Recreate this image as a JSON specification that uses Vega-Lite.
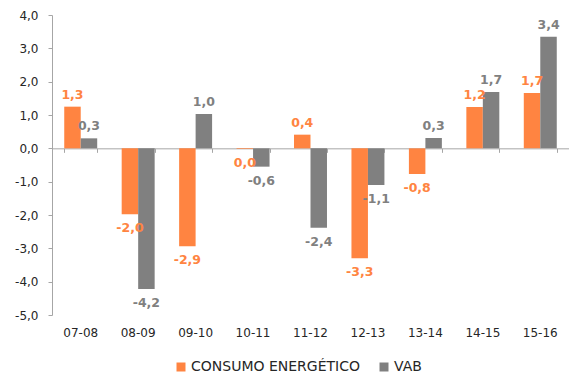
{
  "$schema": "https://vega.github.io/schema/vega-lite/v6.json",
  "width": 517,
  "height": 300,
  "autosize": "none",
  "padding": {"left": 52, "top": 15, "right": 0, "bottom": 59},
  "background": "white",
  "config": {
    "view": {"stroke": null},
    "font": "DejaVu Sans",
    "axis": {"labelFont": "DejaVu Sans", "labelFontSize": 12, "labelColor": "#262626", "domainColor": "#A6A6A6", "tickColor": "#A6A6A6", "grid": false, "title": null}
  },
  "data": {
    "values": [
      {"period": "07-08", "series": "CONSUMO ENERGÉTICO", "value": 1.25, "label": "1,3"},
      {"period": "07-08", "series": "VAB", "value": 0.30, "label": "0,3"},
      {"period": "08-09", "series": "CONSUMO ENERGÉTICO", "value": -1.98, "label": "-2,0"},
      {"period": "08-09", "series": "VAB", "value": -4.22, "label": "-4,2"},
      {"period": "09-10", "series": "CONSUMO ENERGÉTICO", "value": -2.94, "label": "-2,9"},
      {"period": "09-10", "series": "VAB", "value": 1.03, "label": "1,0"},
      {"period": "10-11", "series": "CONSUMO ENERGÉTICO", "value": -0.02, "label": "0,0"},
      {"period": "10-11", "series": "VAB", "value": -0.55, "label": "-0,6"},
      {"period": "11-12", "series": "CONSUMO ENERGÉTICO", "value": 0.41, "label": "0,4"},
      {"period": "11-12", "series": "VAB", "value": -2.38, "label": "-2,4"},
      {"period": "12-13", "series": "CONSUMO ENERGÉTICO", "value": -3.30, "label": "-3,3"},
      {"period": "12-13", "series": "VAB", "value": -1.10, "label": "-1,1"},
      {"period": "13-14", "series": "CONSUMO ENERGÉTICO", "value": -0.77, "label": "-0,8"},
      {"period": "13-14", "series": "VAB", "value": 0.31, "label": "0,3"},
      {"period": "14-15", "series": "CONSUMO ENERGÉTICO", "value": 1.24, "label": "1,2"},
      {"period": "14-15", "series": "VAB", "value": 1.69, "label": "1,7"},
      {"period": "15-16", "series": "CONSUMO ENERGÉTICO", "value": 1.66, "label": "1,7"},
      {"period": "15-16", "series": "VAB", "value": 3.35, "label": "3,4"}
    ]
  },
  "encoding": {
    "x": {"field": "period", "type": "nominal", "sort": null, "scale": {"paddingInner": 0.426, "paddingOuter": 0.213}},
    "xOffset": {"field": "series", "type": "nominal", "scale": {"paddingInner": 0, "paddingOuter": 0}},
    "y": {"field": "value", "type": "quantitative", "scale": {"domain": [-5, 4], "nice": false, "zero": false},
      "axis": {"values": [-5, -4, -3, -2, -1, 0, 1, 2, 3, 4], "tickSize": 4, "labelPadding": 10,
        "labelExpr": "replace(replace(format(datum.value, '.1f'), '.', ','), '\u2212', '-')"}},
    "color": {"field": "series", "type": "nominal",
      "scale": {"domain": ["CONSUMO ENERGÉTICO", "VAB"], "range": ["#FF8441", "#808080"]}}
  },
  "layer": [
    {
      "mark": {"type": "bar"},
      "encoding": {
        "x": {"field": "period", "type": "nominal", "sort": null,
          "axis": {"orient": "bottom", "domain": false, "ticks": false, "tickSize": 0, "labelPadding": 12, "labelAngle": 0}},
        "color": {"field": "series", "type": "nominal",
          "legend": {"orient": "none", "legendX": 122, "legendY": 345, "direction": "horizontal", "title": null,
            "symbolType": "square", "symbolSize": 81, "symbolStrokeWidth": 0, "labelFontSize": 14, "labelFont": "DejaVu Sans",
            "labelColor": "#262626", "labelLimit": 400, "columnPadding": 16, "labelOffset": 3, "padding": 0}}
      }
    },
    {
      "transform": [{"filter": "datum.value >= 0"}],
      "mark": {"type": "text", "baseline": "bottom", "dy": -5, "fontWeight": "bold", "fontSize": 12.5, "font": "DejaVu Sans"},
      "encoding": {
        "x": {"field": "period", "type": "nominal", "sort": null,
          "axis": {"orient": "bottom", "offset": -166.67, "labels": false, "domain": true, "ticks": true, "tickSize": 4, "tickBand": "extent", "domainColor": "#A6A6A6"}},
        "text": {"field": "label"},
        "color": {"field": "series", "type": "nominal", "legend": null}
      }
    },
    {
      "transform": [{"filter": "datum.value < 0"}],
      "mark": {"type": "text", "baseline": "top", "dy": 8, "fontWeight": "bold", "fontSize": 12.5, "font": "DejaVu Sans"},
      "encoding": {
        "x": {"field": "period", "type": "nominal", "sort": null, "axis": null},
        "text": {"field": "label"},
        "color": {"field": "series", "type": "nominal", "legend": null}
      }
    }
  ],
  "resolve": {"axis": {"x": "independent"}}
}
